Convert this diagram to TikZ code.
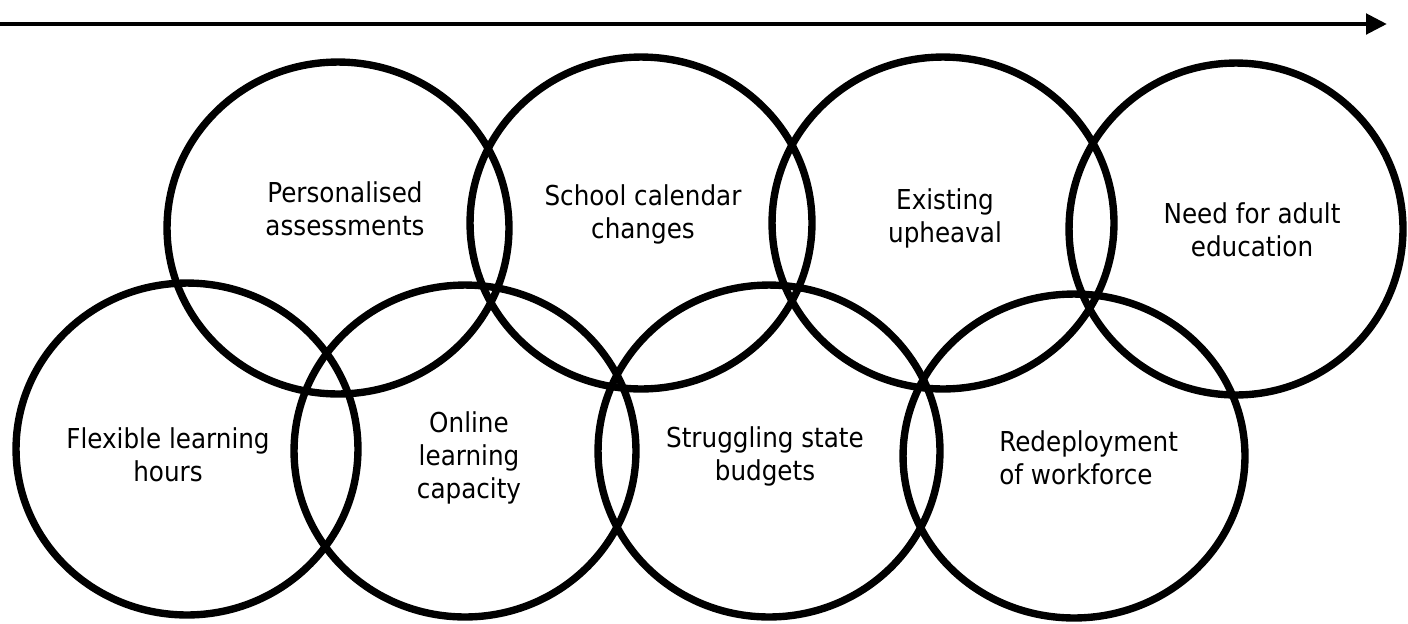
\documentclass[tikz,border=0pt]{standalone}
\usepackage{fontspec}
\setmainfont{DejaVu Sans Condensed}
\usetikzlibrary{shapes.geometric,arrows.meta}
\tikzset{
  ring/.style={ellipse,draw=black,line width=4.2pt,inner sep=0pt,minimum width=6.84cm,minimum height=6.64cm},
  lbl/.style={align=center,inner sep=0pt,font=\fontsize{15.6}{18.8}\selectfont}
}
\begin{document}
\begin{tikzpicture}[x=0.02cm,y=-0.02cm]
\useasboundingbox (0,0) rectangle (1408,623);
% time line
\coordinate (tstart) at (0,24);
\coordinate (tend) at (1387,24);
\draw[line width=2.8pt,-{Triangle[length=0.42cm,width=0.4cm]}] (tstart)--(tend);

% top row
\node (A) at (338,228) [ring]{};
\node (B) at (641,223) [ring]{};
\node (C) at (943,223) [ring]{};
\node (D) at (1236,229) [ring,minimum width=6.68cm]{};
% bottom row
\node (E) at (187,449) [ring]{};
\node (F) at (465,451) [ring]{};
\node (G) at (769,451) [ring]{};
\node (H) at (1074,456) [ring,minimum height=6.48cm]{};

\node (tA) at (345,209) [lbl]{Personalised\\assessments};
\node (tB) at (643,214) [lbl]{School calendar\\changes};
\node (tC) at (945,218) [lbl]{Existing\\upheaval};
\node (tD) at (1252,230) [lbl]{Need for adult\\education};
\node (tE) at (168,455) [lbl]{Flexible learning\\hours};
\node (tF) at (469,458) [lbl]{Online\\learning\\capacity};
\node (tG) at (765,456) [lbl]{Struggling state\\budgets};
\node (tH) at (999,458) [lbl,align=left,anchor=west]{Redeployment\\of workforce};

\end{tikzpicture}
\end{document}
